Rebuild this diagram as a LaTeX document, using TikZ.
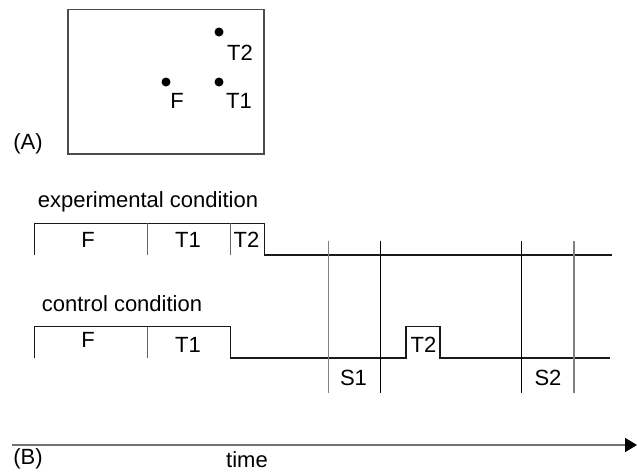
\documentclass[tikz,border=0pt]{standalone}
\usepackage{fontspec}
\setmainfont{Liberation Sans}
\usetikzlibrary{arrows.meta}
\begin{document}
\begin{tikzpicture}[x=1pt,y=-1pt,
  txt/.style={font=\fontsize{22}{26}\selectfont, inner sep=0pt, anchor=base},
  dot/.style={circle, fill=black, inner sep=0pt, minimum size=9pt},
  wave/.style={draw=black!90, line width=1.1pt},
  divider/.style={draw=black!60, line width=1.1pt},
  mark2/.style={draw=black, line width=1.1pt},
  markgray/.style={draw=black!50, line width=1.3pt},
  axis/.style={draw=black!55, line width=1.8pt, -{Triangle[length=12pt,width=14pt,fill=black,color=black]}}]
\useasboundingbox (0,0) rectangle (637,475);

% (A) spatial layout of fixation and targets
\draw[draw=black!70, line width=1.1pt] (68,9.5) rectangle (264,154);
\node[dot] (t2dot) at (219,32) {};
\node[dot] (fdot) at (166,82) {};
\node[dot] (t1dot) at (219,82) {};
\node[txt] (t2lbl) at (240,60) {T2};
\node[txt] (flbl) at (177,108) {F};
\node[txt] (t1lbl) at (239,108) {T1};
\node[txt] (labA) at (28,149) {(A)};

% (B) timelines
\node[txt] (expname) at (148,207.5) {experimental condition};
\node[txt] (ctlname) at (122,311.5) {control condition};

% experimental condition waveform
\draw[wave] (34.3,255) -- (34.3,223.3) -- (264.3,223.3) -- (264.3,255) -- (612,255);
\draw[divider] (147.7,223.3) -- (147.7,255);
\draw[divider] (230.7,223.3) -- (230.7,255);
\node[txt] (expF) at (88,247) {F};
\node[txt] (expT1) at (188,247) {T1};
\node[txt] (expT2) at (246.5,247) {T2};

% control condition waveform
\draw[wave] (34.3,358) -- (34.3,326.7) -- (230.7,326.7) -- (230.7,358)
  -- (406,358) -- (406,326.7) -- (440,326.7) -- (440,358) -- (610,358);
\draw[divider] (147.7,326.7) -- (147.7,358);
\node[txt] (ctlF) at (88,347) {F};
\node[txt] (ctlT1) at (188,352) {T1};
\node[txt] (ctlT2) at (423.5,352) {T2};

% response windows S1 and S2
\draw[markgray] (328.3,240.7) -- (328.3,392.7);
\draw[mark2] (380.7,240.7) -- (380.7,392.7);
\draw[mark2] (521.7,240.7) -- (521.7,392.7);
\draw[markgray] (574,240.7) -- (574,392.7);
\node[txt] (s1) at (353.5,385) {S1};
\node[txt] (s2) at (548,385) {S2};

% time axis
\coordinate (tstart) at (12,445);
\coordinate (tend) at (637,445);
\draw[axis] (tstart) -- (tend);
\node[txt] (labB) at (28,464) {(B)};
\node[txt] (timelbl) at (247,467) {time};
\end{tikzpicture}
\end{document}
